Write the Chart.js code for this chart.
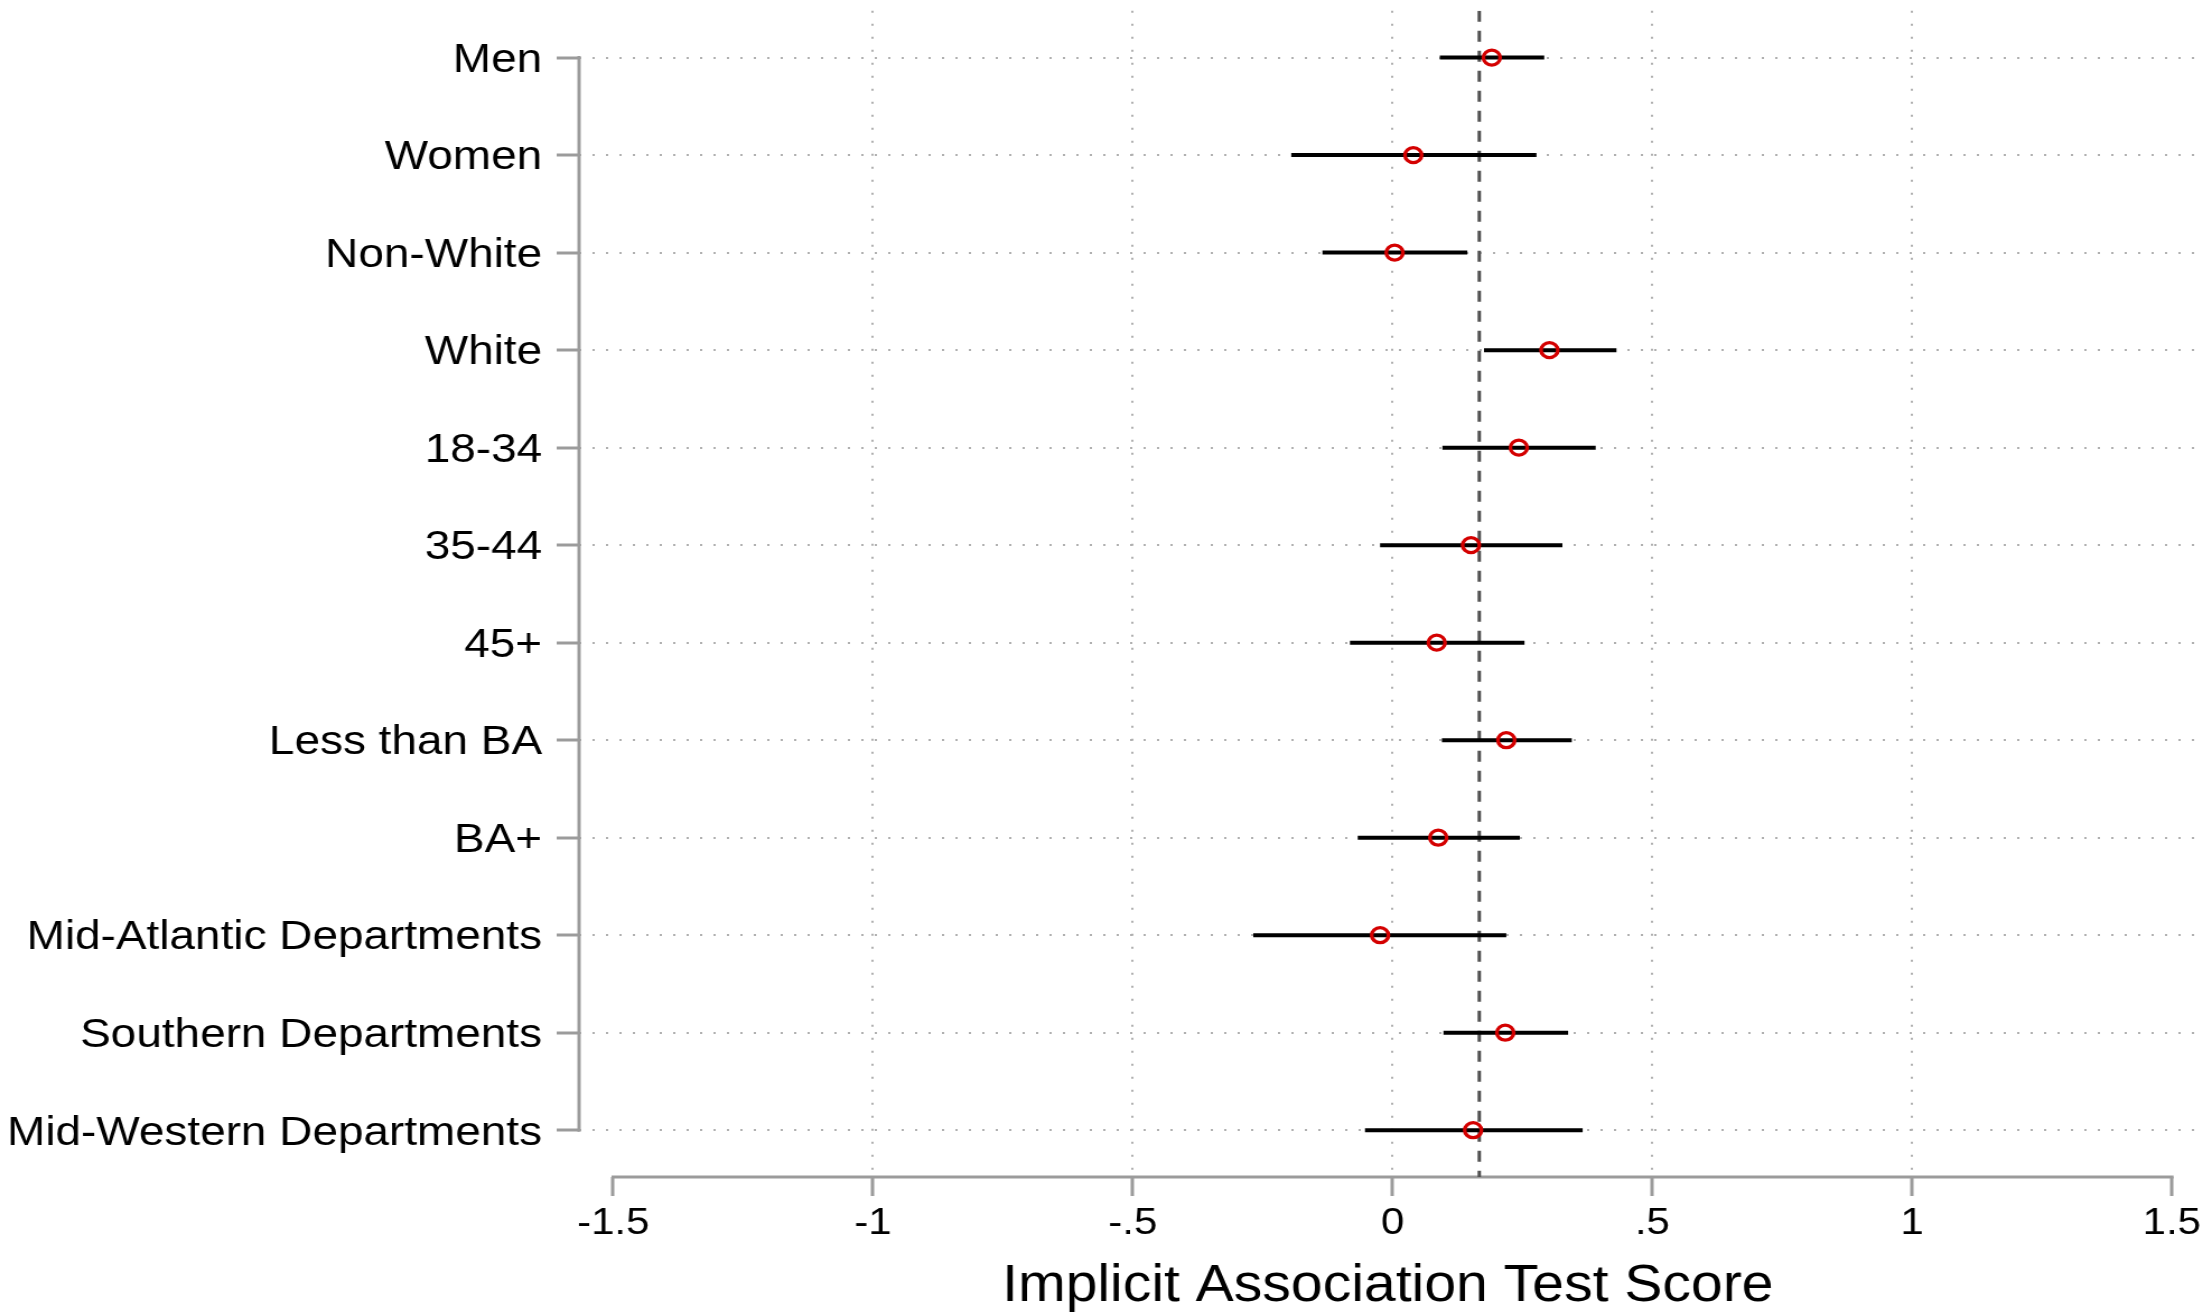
<!DOCTYPE html>
<html>
<head>
<meta charset="utf-8">
<title>Implicit Association Test Score</title>
<script src="https://cdn.jsdelivr.net/npm/chart.js@4.4.1/dist/chart.umd.min.js"></script>
<style>
  html, body { margin: 0; padding: 0; background: #fff; overflow: hidden; }
  /* the source figure is stretched a bit horizontally, so is this one */
  #wrap { width: 1972px; height: 1315px; transform: scaleX(1.12); transform-origin: 0 0; }
</style>
</head>
<body>
<div id="wrap"><canvas id="coefChart" width="1972" height="1315"></canvas></div>
<script>
// groups, top to bottom
const categories = [
    "Men", "Women", "Non-White", "White", "18-34", "35-44", "45+",
    "Less than BA", "BA+", "Mid-Atlantic Departments",
    "Southern Departments", "Mid-Western Departments"
];
// point estimates and confidence bounds
const estimates = [0.191, 0.040, 0.004, 0.302, 0.243, 0.151, 0.085, 0.219, 0.088, -0.024, 0.217, 0.155];
const ciLow = [0.091, -0.195, -0.135, 0.176, 0.096, -0.024, -0.082, 0.095, -0.067, -0.268, 0.098, -0.053];
const ciHigh = [0.292, 0.277, 0.144, 0.431, 0.391, 0.327, 0.254, 0.345, 0.245, 0.219, 0.338, 0.366];
// overall score (dashed line)
const overallScore = 0.167;
const xTicks = [-1.5, -1, -0.5, 0, 0.5, 1, 1.5];
const xTitle = "Implicit Association Test Score";

const FONT = "'Liberation Sans', Arial, Helvetica, sans-serif";
const axisColor = "#9b9b9b";
const gridColor = "#b0b0b0";

/**
 * Build the CI segments, one pair of points per row,
 * with a gap in between.
 */
function getCiSegments() {
    const pts = [];
    for (let i = 0; i < categories.length; i++) {
        pts.push({ x: ciLow[i], y: i });
        pts.push({ x: ciHigh[i], y: i });
        pts.push({ x: null, y: null });
    }
    return pts;
}

function getPoints() {
    return estimates.map((v, i) => ({ x: v, y: i }));
}

function fmtTick(v) {
    if (v === 0) return "0";
    return String(v).replace("0.", ".");
}

// axis lines only run between the first and last tick
const axisLines = {
    id: "axisLines",
    beforeDatasetsDraw(chart) {
        const { ctx, chartArea, scales: { x, y } } = chart;
        ctx.save();
        ctx.strokeStyle = axisColor;
        ctx.lineWidth = 3;
        ctx.lineCap = "square";
        ctx.beginPath();
        ctx.moveTo(chartArea.left, y.getPixelForValue(0));
        ctx.lineTo(chartArea.left, y.getPixelForValue(categories.length - 1));
        ctx.moveTo(x.getPixelForValue(xTicks[0]), chartArea.bottom);
        ctx.lineTo(x.getPixelForValue(xTicks[xTicks.length - 1]), chartArea.bottom);
        ctx.stroke();
        ctx.restore();
    }
};

const yMin = -0.48;
const yMax = categories.length - 1 + 0.48;

new Chart(document.getElementById("coefChart"), {
    type: "scatter",
    data: {
        datasets: [{
            label: "Estimate",
            data: getPoints(),
            pointRadius: 7.5,
            pointHoverRadius: 7.5,
            pointBorderWidth: 3.3,
            pointBorderColor: "#d40000",
            pointBackgroundColor: "rgba(0,0,0,0)",
            order: 0
        }, {
            label: "CI",
            data: getCiSegments(),
            showLine: true,
            spanGaps: false,
            borderColor: "#000",
            borderWidth: 4,
            pointRadius: 0,
            order: 1
        }, {
            label: "Overall",
            data: [{ x: overallScore, y: yMin }, { x: overallScore, y: yMax }],
            showLine: true,
            borderColor: "#505050",
            borderWidth: 3,
            borderDash: [11, 9],
            pointRadius: 0,
            order: 2
        }]
    },
    options: {
        responsive: false,
        animation: false,
        layout: { padding: { top: 10, left: 0, right: 0, bottom: 0 } },
        plugins: {
            legend: { display: false },
            tooltip: { enabled: false }
        },
        scales: {
            x: {
                type: "linear",
                min: -1.5657,
                max: 1.5475,
                afterBuildTicks(scale) {
                    scale.ticks = xTicks.map(v => ({ value: v }));
                },
                afterFit(scale) {
                    scale.height = 138;
                },
                ticks: {
                    callback: v => fmtTick(v),
                    color: "#000",
                    font: { family: FONT, size: 37.5 },
                    padding: 5,
                    maxRotation: 0,
                    autoSkip: false
                },
                grid: {
                    color: c => (c.tick && Math.abs(c.tick.value) === 1.5) ? "rgba(0,0,0,0)" : gridColor,
                    lineWidth: 2,
                    tickColor: axisColor,
                    tickWidth: 3,
                    tickLength: 19,
                    tickBorderDash: []
                },
                border: { display: false, dash: [2, 11] },
                title: {
                    display: true,
                    text: xTitle,
                    color: "#000",
                    font: { family: FONT, size: 51, lineHeight: 1.1 },
                    padding: { top: 0, bottom: 0 }
                }
            },
            y: {
                type: "linear",
                reverse: true,
                min: yMin,
                max: yMax,
                afterBuildTicks(scale) {
                    scale.ticks = categories.map((c, i) => ({ value: i }));
                },
                afterFit(scale) {
                    scale.width = 517;
                    scale.paddingTop = 0;
                    scale.paddingBottom = 0;
                },
                ticks: {
                    callback: v => categories[v],
                    color: "#000",
                    font: { family: FONT, size: 41 },
                    padding: 13,
                    labelOffset: 3,
                    autoSkip: false
                },
                grid: {
                    color: gridColor,
                    lineWidth: 2,
                    tickColor: axisColor,
                    tickWidth: 3,
                    tickLength: 20,
                    tickBorderDash: []
                },
                border: { display: false, dash: [2, 10] }
            }
        }
    },
    plugins: [axisLines]
});
</script>
</body>
</html>
